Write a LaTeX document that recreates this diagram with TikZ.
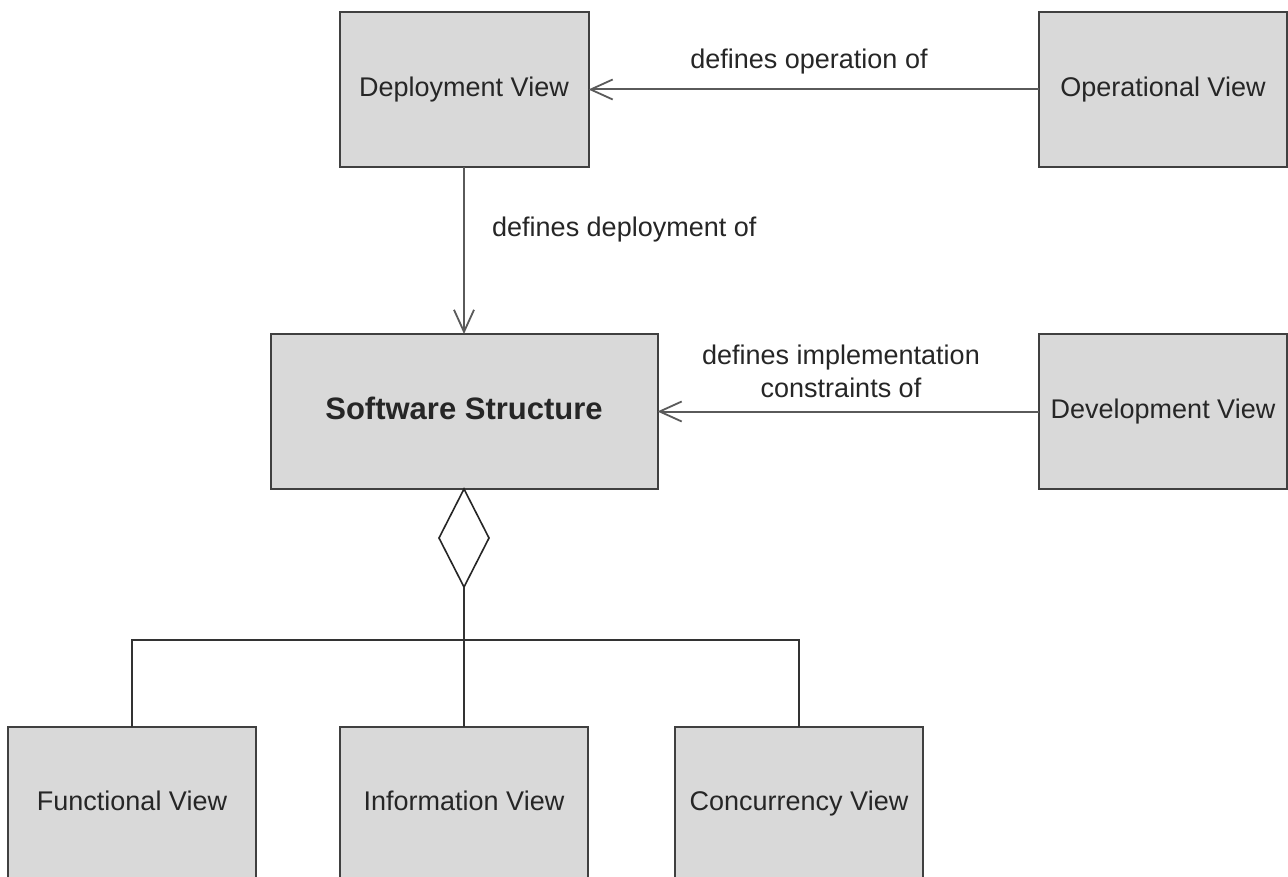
\documentclass[tikz,border=0pt]{standalone}
\usepackage{fontspec}
\setmainfont{Liberation Sans}
\usetikzlibrary{arrows.meta,shapes.geometric}
\definecolor{boxfill}{HTML}{D9D9D9}
\definecolor{boxline}{HTML}{404040}
\definecolor{conline}{HTML}{5A5A5A}
\tikzset{
  viewbox/.style={draw=boxline, fill=boxfill, line width=2pt, inner sep=0pt, outer sep=0pt,
    font=\fontsize{27}{32}\selectfont, text=black!85, text height=19.5pt, text depth=5.5pt},
  conn/.style={draw=conline, line width=2pt},
  openarrow/.style={conn, -{Straight Barb[length=22pt,width=20pt,line width=1.8pt]}},
  lbl/.style={font=\fontsize{27}{33}\selectfont, text=black!85, inner sep=0pt},
  tree/.style={draw=black!80, line width=2pt},
}
\begin{document}
\begin{tikzpicture}[x=1pt,y=-1pt]
\useasboundingbox (0,0) rectangle (1288,877);
\clip (0,0) rectangle (1288,877);
\fill[white] (0,0) rectangle (1288,877);
% nodes
\node[viewbox, minimum width=249pt, minimum height=155pt] (depl) at (464,89.5) {Deployment View};
\node[viewbox, minimum width=248pt, minimum height=155pt] (oper) at (1163,89.5) {Operational View};
\node[viewbox, minimum width=387pt, minimum height=155pt, font=\fontsize{31}{36}\selectfont\bfseries, text height=22pt, text depth=6pt] (soft) at (464,411.5) {Software Structure};
\node[viewbox, minimum width=248pt, minimum height=155pt] (devel) at (1163,411.5) {Development View};
\node[draw=black!85, fill=white, line width=1.6pt, shape=diamond, inner sep=0pt, outer sep=0pt,
      minimum width=50pt, minimum height=98pt] (dia) at (464,538) {};
\node[viewbox, minimum width=248pt, minimum height=153pt] (func) at (132,803.5) {Functional View};
\node[viewbox, minimum width=248pt, minimum height=153pt] (info) at (464,803.5) {Information View};
\node[viewbox, minimum width=248pt, minimum height=153pt] (conc) at (799,803.5) {Concurrency View};
\coordinate (junc) at (464,640);
% connectors
\draw[openarrow] (oper.west) -- (depl.east);
\draw[openarrow] (depl.south) -- (soft.north);
\draw[openarrow] (devel.west) -- (soft.east);
\draw[tree] (dia.south) -- (info.north);
\draw[tree] (junc) -| (func.north);
\draw[tree] (junc) -| (conc.north);
% labels
\node[lbl] (l1) at (809,62) {defines operation of};
\node[lbl, anchor=west] (l2) at (492,230) {defines deployment of};
\node[lbl, align=center] (l3) at (841,371) {defines implementation\\constraints of};
\end{tikzpicture}
\end{document}
